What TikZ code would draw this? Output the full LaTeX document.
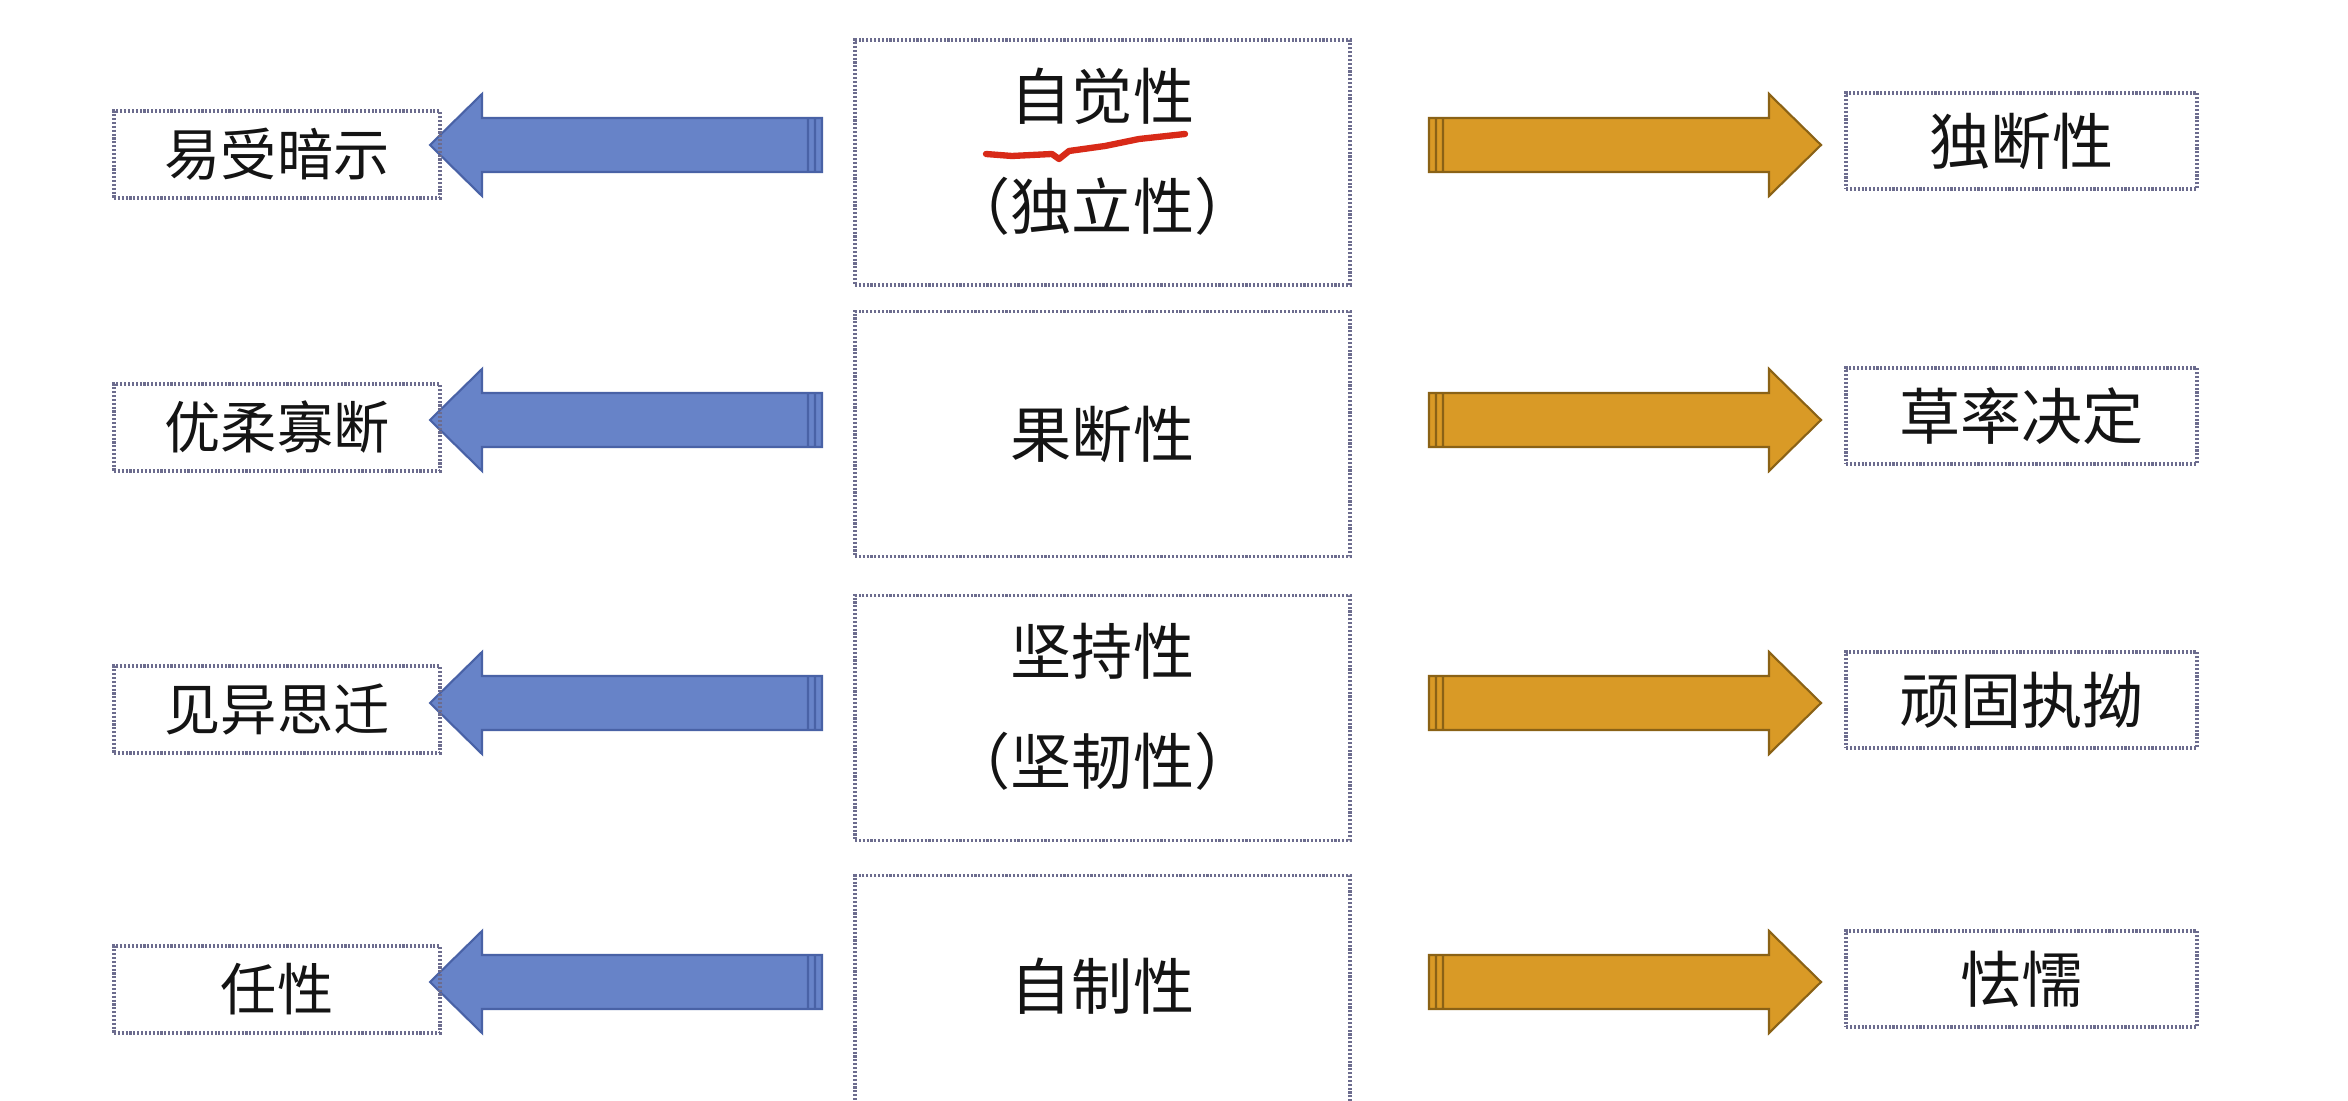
\documentclass[tikz,border=0pt]{standalone}
\usepackage{fontspec}
\newfontfamily\cjk{Noto Sans CJK SC}
\usepackage{xcolor}
\usepackage{tikz}
\usetikzlibrary{calc}
\definecolor{ink}{HTML}{141414}
\definecolor{frameG}{HTML}{6C6C8E}
\definecolor{bFill}{HTML}{6783C8}
\definecolor{bEdge}{HTML}{4962A6}
\definecolor{oFill}{HTML}{D99A26}
\definecolor{oEdge}{HTML}{8A6216}
\definecolor{pen}{HTML}{D82A18}
\tikzset{
  frm/.style={draw=frameG, line width=0.9pt, dash pattern=on 0.6pt off 0.5pt, text=ink, inner sep=0pt},
  midbox/.style={frm, minimum width=4.95cm, minimum height=2.45cm, align=center, font=\cjk\fontsize{17.4pt}{31.2pt}\selectfont},
  lackbox/.style={frm, minimum width=3.26cm, minimum height=0.87cm, font=\cjk\fontsize{16pt}{19pt}\selectfont},
  overbox/.style={frm, minimum width=3.51cm, minimum height=0.96cm, font=\cjk\fontsize{17.4pt}{21pt}\selectfont},
  lessarr/.style={fill=bFill, draw=bEdge, line width=0.6pt},
  morearr/.style={fill=oFill, draw=oEdge, line width=0.6pt},
}
% extra depth so the text sits a little above the box centre
\newcommand{\lowpad}{\rule[-0.28cm]{0pt}{0pt}}
% block arrow: #1 style, #2 tail, #3 tip
\newcommand{\blockarrow}[3]{%
  \draw[#1] let \p1=(#2), \p2=(#3), \n1={ifthenelse(\x2>\x1,1,-1)} in
    ({\x1},{\y1+0.27cm}) -- ({\x2-(\n1)*0.52cm},{\y1+0.27cm}) -- ({\x2-(\n1)*0.52cm},{\y1+0.51cm})
    -- (\x2,\y2) -- ({\x2-(\n1)*0.52cm},{\y1-0.51cm}) -- ({\x2-(\n1)*0.52cm},{\y1-0.27cm})
    -- ({\x1},{\y1-0.27cm}) -- cycle
    ({\x1+(\n1)*0.07cm},{\y1+0.27cm}) -- ({\x1+(\n1)*0.07cm},{\y1-0.27cm})
    ({\x1+(\n1)*0.14cm},{\y1+0.27cm}) -- ({\x1+(\n1)*0.14cm},{\y1-0.27cm});}

\begin{document}
\begin{tikzpicture}
\useasboundingbox[fill=white] (0,0) rectangle (23.48,-11.01);
\clip (0,0) rectangle (23.48,-11.01);
% arrows first, frames on top
\foreach \i/\y in {1/1.45,2/4.20,3/7.03,4/9.82}{
  \coordinate (lt\i) at (8.22,-\y);
  \coordinate (lh\i) at (4.30,-\y);
  \coordinate (rt\i) at (14.29,-\y);
  \coordinate (rh\i) at (18.21,-\y);
  \blockarrow{lessarr}{lt\i}{lh\i}
  \blockarrow{morearr}{rt\i}{rh\i}
}
\node[midbox] (mid1) at (11.025,-1.625) {自觉性\\（独立性）\lowpad};
\node[midbox] (mid2) at (11.025,-4.34) {果断性};
\node[midbox] (mid3) at (11.025,-7.18) {坚持性\\（坚韧性）\lowpad};
\node[midbox] (mid4) at (11.025,-9.98) {自制性\lowpad};
\node[lackbox] (lack1) at (2.77,-1.545) {易受暗示};
\node[lackbox] (lack2) at (2.77,-4.275) {优柔寡断};
\node[lackbox] (lack3) at (2.77,-7.095) {见异思迁};
\node[lackbox] (lack4) at (2.77,-9.895) {任性};
\node[overbox] (over1) at (20.215,-1.41) {独断性};
\node[overbox] (over2) at (20.215,-4.16) {草率决定};
\node[overbox] (over3) at (20.215,-7.00) {顽固执拗};
\node[overbox] (over4) at (20.215,-9.79) {怯懦};
% hand-drawn underline
\draw[pen, line width=1.8pt, line cap=round, line join=round] (9.86,-1.54) -- (10.12,-1.56) -- (10.52,-1.54) -- (10.59,-1.59) -- (10.69,-1.51) -- (11.05,-1.46) -- (11.39,-1.39) -- (11.85,-1.34);
\end{tikzpicture}
\end{document}
